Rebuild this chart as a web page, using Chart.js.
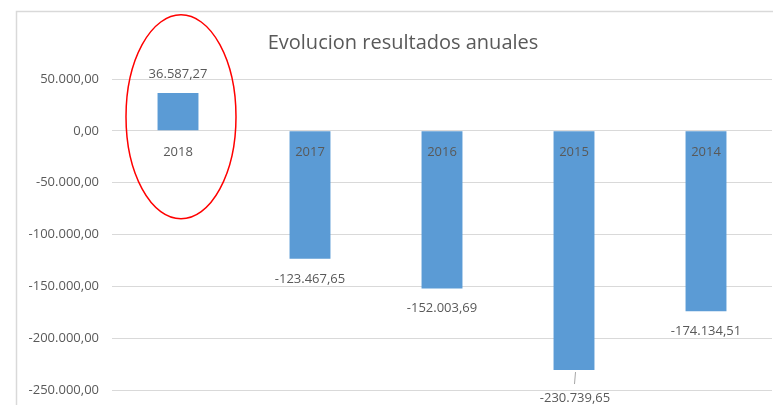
<!DOCTYPE html>
<html>
<head>
<meta charset="utf-8">
<script src="https://cdn.jsdelivr.net/npm/chart.js@4.4.1/dist/chart.umd.min.js"></script>
<style>
  html, body { margin: 0; padding: 0; background: #fff; }
  #wrap { width: 773px; height: 405px; }
</style>
</head>
<body>
<div id="wrap"><canvas id="chart" width="773" height="405"></canvas></div>
<script>
// datos
const categorias = ['2018', '2017', '2016', '2015', '2014'];
const resultados = [36587.27, -123467.65, -152003.69, -230739.65, -174134.51];
const ejeY = { min: -250000, max: 50000, paso: 50000 };
const titulo = 'Evolucion resultados anuales';

const gris = '#595959';
const fuente = "'Open Sans', sans-serif";

// formato es-ES: 50.000,00
function fmt(v) {
    const neg = v < 0;
    const parts = Math.abs(v).toFixed(2).split('.');
    const ent = parts[0].replace(/\B(?=(\d{3})+(?!\d))/g, '.');
    return (neg ? '-' : '') + ent + ',' + parts[1];
}

const extras = {
    id: 'extras',
    beforeDraw(chart) {
        const ctx = chart.ctx;
        ctx.save();
        // marco del grafico
        ctx.strokeStyle = '#d9d9d9';
        ctx.lineWidth = 1.5;
        ctx.beginPath();
        ctx.moveTo(16.5, 420);
        ctx.lineTo(16.5, 11.5);
        ctx.lineTo(800, 11.5);
        ctx.stroke();
        // titulo
        ctx.fillStyle = gris;
        ctx.font = "20px " + fuente;
        ctx.textAlign = 'center';
        ctx.textBaseline = 'middle';
        ctx.fillText(titulo, 403, 43);
        ctx.restore();
    },
    afterDatasetsDraw(chart) {
        const ctx = chart.ctx;
        const x = chart.scales.x;
        const y = chart.scales.y;
        const y0 = y.getPixelForValue(0);
        ctx.save();
        ctx.fillStyle = gris;
        ctx.textAlign = 'center';
        ctx.textBaseline = 'middle';
        ctx.font = "13px " + fuente;
        categorias.forEach((c, i) => {
            const cx = x.getPixelForValue(i);
            // etiqueta de categoria junto a la linea de cero
            ctx.fillText(c, cx, y0 + 21);
            // etiqueta de valor
            const v = resultados[i];
            const yb = y.getPixelForValue(v);
            if (v >= 0) {
                ctx.fillText(fmt(v), cx, yb - 19);
            } else if (yb + 28 > chart.chartArea.bottom) {
                // etiqueta desplazada con linea guia
                ctx.strokeStyle = '#a6a6a6';
                ctx.lineWidth = 1;
                ctx.beginPath();
                ctx.moveTo(cx + 1.5, yb + 2);
                ctx.lineTo(cx + 0.5, yb + 14);
                ctx.stroke();
                ctx.fillText(fmt(v), cx + 1, yb + 28);
            } else {
                ctx.fillText(fmt(v), cx, yb + 20);
            }
        });
        // elipse roja alrededor de 2018
        const ex = x.getPixelForValue(0) + 3;
        const ey = y.getPixelForValue(13500);
        ctx.strokeStyle = '#ff0000';
        ctx.lineWidth = 1.5;
        ctx.beginPath();
        ctx.ellipse(ex, ey, 55, 102, 0, 0, Math.PI * 2);
        ctx.stroke();
        ctx.restore();
    }
};

new Chart(document.getElementById('chart'), {
    type: 'bar',
    data: {
        labels: categorias,
        datasets: [{
            label: 'Resultado',
            data: resultados,
            backgroundColor: '#5b9bd5',
            borderWidth: 0,
            barPercentage: 0.31,
            categoryPercentage: 1
        }]
    },
    options: {
        responsive: false,
        animation: false,
        layout: { padding: { top: 79, right: 1, bottom: 15, left: 0 } },
        plugins: {
            legend: { display: false },
            title: { display: false },
            tooltip: { enabled: false }
        },
        scales: {
            x: { display: false },
            y: {
                min: ejeY.min,
                max: ejeY.max,
                afterFit(scale) { scale.width = 112; },
                grid: { color: '#d9d9d9', lineWidth: 1, drawTicks: true, tickLength: 9, tickColor: 'rgba(0,0,0,0)' },
                border: { display: false },
                ticks: {
                    stepSize: ejeY.paso,
                    padding: 4,
                    color: gris,
                    font: { family: "'Open Sans', sans-serif", size: 13 },
                    callback: (v) => fmt(v)
                }
            }
        }
    },
    plugins: [extras]
});
</script>
</body>
</html>
